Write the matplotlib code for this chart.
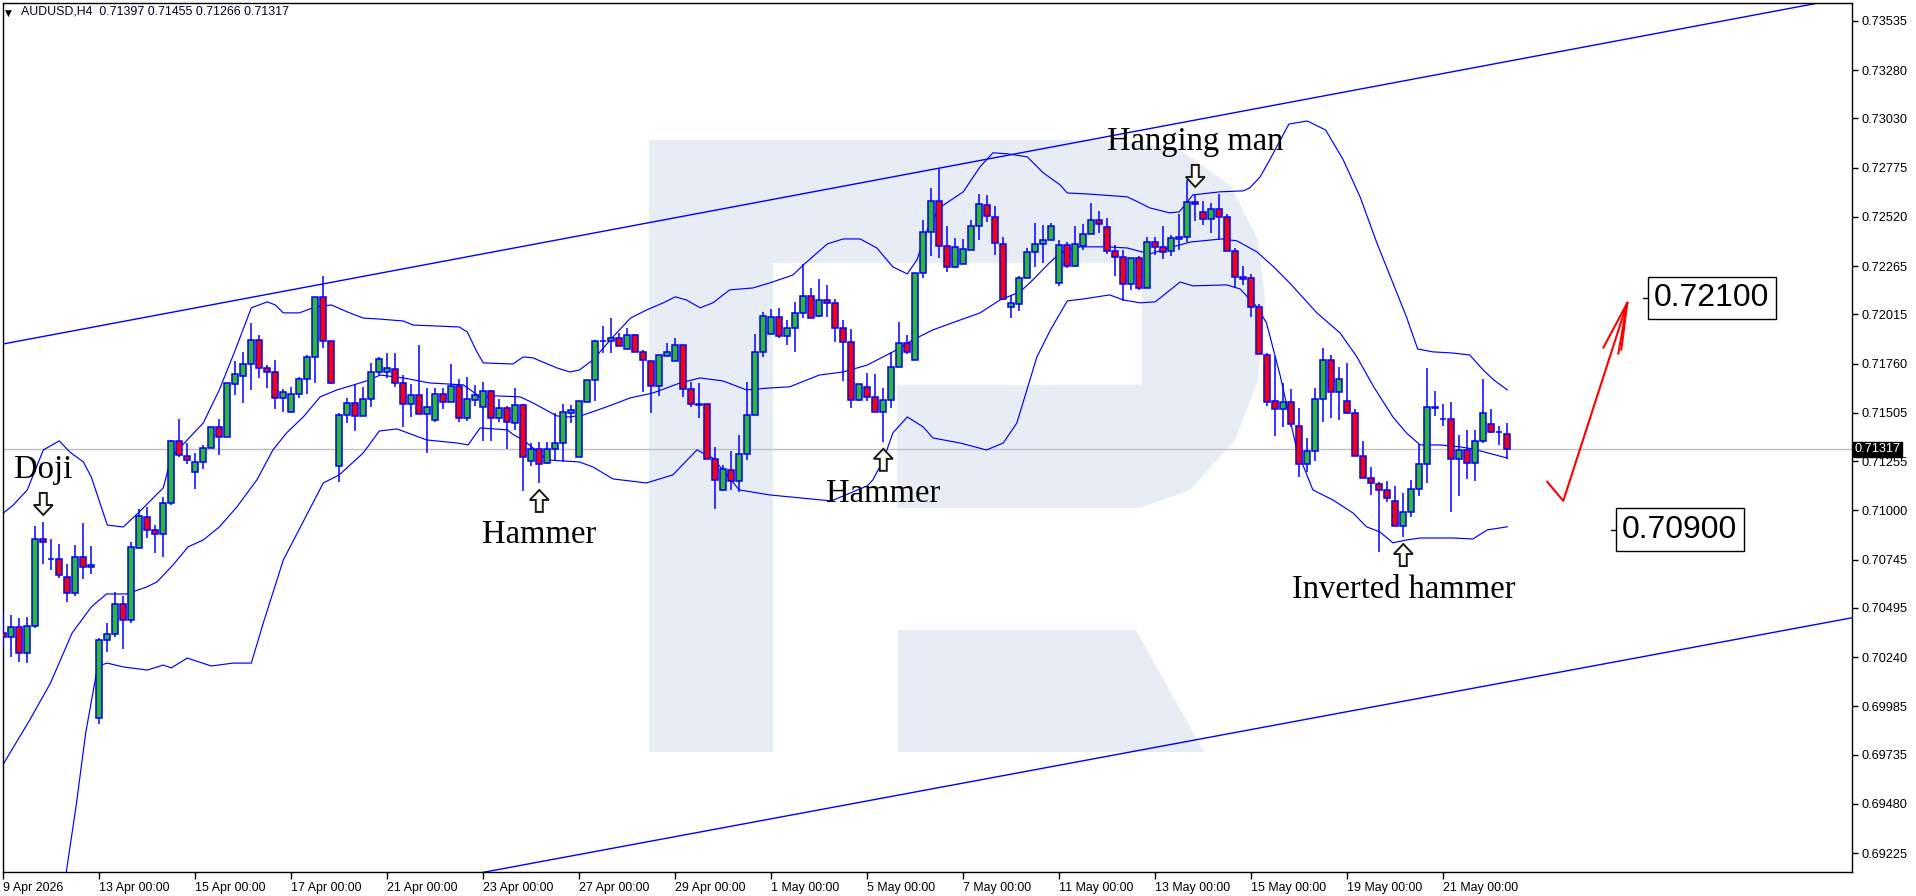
import numpy as np
import matplotlib
matplotlib.use("Agg")
import matplotlib.pyplot as plt
import matplotlib.transforms as mtransforms
from matplotlib.patches import Polygon, Rectangle

# ---- data (bar 0 = 9 Apr 2026 00:00) ----
opens = [
    0.70365, 0.70345, 0.70396, 0.70261, 0.70401, 0.70852, 0.70748, 0.70748, 0.70655, 0.70572,
    0.70759, 0.70707, 0.69925, 0.70329, 0.70360, 0.70515, 0.70432, 0.70806, 0.70966, 0.70899,
    0.70878, 0.71038, 0.71360, 0.71282, 0.71199, 0.71251, 0.71324, 0.71432, 0.71381, 0.71655,
    0.71696, 0.71758, 0.71883, 0.71738, 0.71717, 0.71583, 0.71510, 0.71603, 0.71680, 0.71795,
    0.72106, 0.71878, 0.71230, 0.71494, 0.71556, 0.71489, 0.71577, 0.71717, 0.71717, 0.71733,
    0.71660, 0.71551, 0.71598, 0.71499, 0.71468, 0.71603, 0.71562, 0.71645, 0.71479, 0.71572,
    0.71536, 0.71619, 0.71479, 0.71530, 0.71453, 0.71546, 0.71256, 0.71318, 0.71246, 0.71318,
    0.71349, 0.71504, 0.71277, 0.71562, 0.71676, 0.71878, 0.71878, 0.71893, 0.71836, 0.71909,
    0.71821, 0.71774, 0.71645, 0.71800, 0.71774, 0.71857, 0.71629, 0.71551, 0.71551, 0.71266,
    0.71106, 0.71209, 0.71153, 0.71292, 0.71494, 0.71821, 0.71914, 0.72002, 0.71904, 0.71945,
    0.72023, 0.72111, 0.72007, 0.72090, 0.72075, 0.71945, 0.71873, 0.71572, 0.71640, 0.71588,
    0.71510, 0.71572, 0.71743, 0.71867, 0.71779, 0.72230, 0.72442, 0.72603, 0.72370, 0.72261,
    0.72276, 0.72349, 0.72473, 0.72582, 0.72520, 0.72380, 0.72054, 0.72069, 0.72204, 0.72339,
    0.72380, 0.72401, 0.72178, 0.72375, 0.72266, 0.72370, 0.72432, 0.72504, 0.72468, 0.72344,
    0.72313, 0.72173, 0.72308, 0.72152, 0.72390, 0.72365, 0.72344, 0.72406, 0.72416, 0.72597,
    0.72546, 0.72510, 0.72561, 0.72520, 0.72344, 0.72209, 0.72204, 0.72054, 0.71805, 0.71567,
    0.71525, 0.71562, 0.71437, 0.71240, 0.71308, 0.71577, 0.71779, 0.71614, 0.71567, 0.71504,
    0.71282, 0.71168, 0.71137, 0.71106, 0.71049, 0.70919, 0.70992, 0.71111, 0.71240, 0.71536,
    0.71474, 0.71474, 0.71266, 0.71313, 0.71246, 0.71360, 0.71448, 0.71406, 0.71397,
]
highs = [
    0.70474, 0.70458, 0.70443, 0.70448, 0.70919, 0.70940, 0.70852, 0.70826, 0.70722, 0.70821,
    0.70934, 0.70816, 0.70340, 0.70416, 0.70578, 0.70557, 0.70837, 0.71007, 0.71018, 0.70924,
    0.71070, 0.71365, 0.71473, 0.71349, 0.71297, 0.71339, 0.71432, 0.71473, 0.71660, 0.71774,
    0.71821, 0.71970, 0.71909, 0.71753, 0.71779, 0.71629, 0.71640, 0.71691, 0.71805, 0.72106,
    0.72214, 0.71878, 0.71504, 0.71583, 0.71650, 0.71640, 0.71763, 0.71795, 0.71815, 0.71815,
    0.71701, 0.71655, 0.71857, 0.71635, 0.71635, 0.71635, 0.71758, 0.71680, 0.71691, 0.71650,
    0.71665, 0.71624, 0.71577, 0.71541, 0.71635, 0.71551, 0.71349, 0.71355, 0.71355, 0.71504,
    0.71551, 0.71546, 0.71567, 0.71676, 0.71883, 0.71955, 0.71996, 0.71919, 0.71945, 0.71914,
    0.71831, 0.71774, 0.71805, 0.71867, 0.71893, 0.71857, 0.71665, 0.71660, 0.71551, 0.71329,
    0.71235, 0.71308, 0.71391, 0.71665, 0.71914, 0.72028, 0.72043, 0.72049, 0.71986, 0.72080,
    0.72276, 0.72152, 0.72199, 0.72168, 0.72095, 0.71986, 0.71940, 0.71655, 0.71712, 0.71707,
    0.71635, 0.71821, 0.71976, 0.71909, 0.72230, 0.72504, 0.72670, 0.72774, 0.72473, 0.72411,
    0.72406, 0.72504, 0.72639, 0.72634, 0.72577, 0.72416, 0.72116, 0.72214, 0.72359, 0.72489,
    0.72478, 0.72489, 0.72401, 0.72390, 0.72473, 0.72484, 0.72592, 0.72551, 0.72515, 0.72375,
    0.72349, 0.72308, 0.72318, 0.72416, 0.72416, 0.72473, 0.72427, 0.72535, 0.72712, 0.72639,
    0.72603, 0.72592, 0.72639, 0.72535, 0.72359, 0.72266, 0.72225, 0.72069, 0.71815, 0.71800,
    0.71660, 0.71629, 0.71530, 0.71375, 0.71635, 0.71841, 0.71805, 0.71743, 0.71764, 0.71525,
    0.71360, 0.71225, 0.71148, 0.71153, 0.71127, 0.71090, 0.71158, 0.71344, 0.71738, 0.71619,
    0.71551, 0.71562, 0.71391, 0.71417, 0.71417, 0.71681, 0.71525, 0.71437, 0.71455,
]
lows = [
    0.70293, 0.70241, 0.70215, 0.70209, 0.70391, 0.70722, 0.70691, 0.70650, 0.70526, 0.70557,
    0.70644, 0.70670, 0.69893, 0.70267, 0.70345, 0.70282, 0.70416, 0.70806, 0.70858, 0.70779,
    0.70759, 0.71028, 0.71277, 0.71240, 0.71111, 0.71214, 0.71324, 0.71287, 0.71381, 0.71598,
    0.71556, 0.71624, 0.71686, 0.71635, 0.71525, 0.71510, 0.71510, 0.71583, 0.71603, 0.71660,
    0.71842, 0.71655, 0.71148, 0.71452, 0.71412, 0.71489, 0.71536, 0.71701, 0.71686, 0.71640,
    0.71432, 0.71484, 0.71499, 0.71297, 0.71458, 0.71525, 0.71562, 0.71458, 0.71463, 0.71541,
    0.71360, 0.71360, 0.71458, 0.71318, 0.71417, 0.71101, 0.71230, 0.71142, 0.71240, 0.71256,
    0.71251, 0.71453, 0.71277, 0.71562, 0.71567, 0.71815, 0.71815, 0.71852, 0.71836, 0.71821,
    0.71614, 0.71504, 0.71593, 0.71800, 0.71774, 0.71588, 0.71536, 0.71479, 0.71266, 0.71007,
    0.71101, 0.71106, 0.71096, 0.71261, 0.71494, 0.71795, 0.71914, 0.71893, 0.71857, 0.71821,
    0.71996, 0.71996, 0.72002, 0.72002, 0.71873, 0.71671, 0.71530, 0.71567, 0.71567, 0.71510,
    0.71355, 0.71530, 0.71743, 0.71810, 0.71779, 0.72204, 0.72318, 0.72308, 0.72235, 0.72256,
    0.72276, 0.72349, 0.72401, 0.72494, 0.72323, 0.72090, 0.71996, 0.72033, 0.72204, 0.72261,
    0.72282, 0.72401, 0.72163, 0.72256, 0.72261, 0.72349, 0.72432, 0.72437, 0.72328, 0.72214,
    0.72085, 0.72142, 0.72142, 0.72152, 0.72323, 0.72303, 0.72318, 0.72349, 0.72390, 0.72499,
    0.72478, 0.72437, 0.72401, 0.72344, 0.72152, 0.72168, 0.72002, 0.71810, 0.71541, 0.71385,
    0.71432, 0.71432, 0.71173, 0.71199, 0.71256, 0.71458, 0.71479, 0.71468, 0.71499, 0.71282,
    0.71168, 0.71080, 0.70785, 0.71044, 0.70919, 0.70862, 0.70966, 0.71075, 0.71142, 0.71489,
    0.71437, 0.70992, 0.71075, 0.71163, 0.71153, 0.71349, 0.71401, 0.71339, 0.71266,
]
closes = [
    0.70345, 0.70396, 0.70261, 0.70401, 0.70852, 0.70837, 0.70748, 0.70665, 0.70572, 0.70759,
    0.70707, 0.70717, 0.70329, 0.70360, 0.70515, 0.70432, 0.70811, 0.70971, 0.70899, 0.70878,
    0.71038, 0.71360, 0.71287, 0.71261, 0.71251, 0.71324, 0.71432, 0.71381, 0.71660, 0.71706,
    0.71758, 0.71883, 0.71738, 0.71717, 0.71583, 0.71614, 0.71603, 0.71680, 0.71795, 0.72106,
    0.71878, 0.71660, 0.71494, 0.71556, 0.71489, 0.71577, 0.71717, 0.71784, 0.71738, 0.71660,
    0.71551, 0.71598, 0.71499, 0.71536, 0.71603, 0.71562, 0.71645, 0.71479, 0.71577, 0.71598,
    0.71619, 0.71479, 0.71530, 0.71458, 0.71546, 0.71277, 0.71318, 0.71240, 0.71318, 0.71349,
    0.71510, 0.71520, 0.71567, 0.71676, 0.71878, 0.71878, 0.71893, 0.71852, 0.71909, 0.71821,
    0.71779, 0.71645, 0.71805, 0.71821, 0.71857, 0.71629, 0.71551, 0.71546, 0.71266, 0.71158,
    0.71214, 0.71153, 0.71292, 0.71494, 0.71821, 0.72007, 0.72002, 0.71904, 0.71945, 0.72023,
    0.72111, 0.71996, 0.72090, 0.72075, 0.71945, 0.71873, 0.71572, 0.71655, 0.71588, 0.71510,
    0.71572, 0.71743, 0.71867, 0.71821, 0.72230, 0.72442, 0.72603, 0.72370, 0.72261, 0.72365,
    0.72354, 0.72473, 0.72587, 0.72525, 0.72385, 0.72095, 0.72075, 0.72204, 0.72339, 0.72380,
    0.72401, 0.72473, 0.72375, 0.72266, 0.72380, 0.72432, 0.72504, 0.72484, 0.72344, 0.72313,
    0.72173, 0.72308, 0.72152, 0.72390, 0.72365, 0.72339, 0.72411, 0.72416, 0.72597, 0.72587,
    0.72510, 0.72561, 0.72520, 0.72344, 0.72209, 0.72199, 0.72054, 0.71810, 0.71562, 0.71525,
    0.71562, 0.71448, 0.71240, 0.71308, 0.71577, 0.71779, 0.71614, 0.71680, 0.71504, 0.71282,
    0.71168, 0.71142, 0.71106, 0.71064, 0.70919, 0.70992, 0.71111, 0.71240, 0.71536, 0.71530,
    0.71474, 0.71266, 0.71313, 0.71246, 0.71360, 0.71504, 0.71406, 0.71406, 0.71317,
]

# Bollinger band (20, 2) as drawn on the chart, sampled at bar positions
upper_bar = [0, 1.25, 3, 5, 7, 8.3, 10, 11, 13, 15, 17, 20, 21, 23, 25, 27, 29, 31, 33, 34,
             35, 37, 39, 41, 43, 45, 47, 50, 51.2, 57, 58, 59.2, 60, 63.7, 65, 66.2, 69.2, 70.8,
             72, 73.7, 76.2, 78.4, 80.4, 82.5, 84, 85.4, 87.1, 88.7, 90.8, 93.7, 95.8, 98.7,
             100, 103, 105, 107.1, 109.2, 111.2, 113, 114.2, 115.5, 117, 120, 122.1, 123.7,
             125.5, 128, 130, 132.1, 133, 135.5, 140.5, 142.1, 143.3, 145.8, 147, 148.7, 152.1,
             155, 155.8, 157.1, 158.3, 160.7, 163, 165.3, 167.5, 169.6, 171.7, 173.7, 175.4,
             176.8, 178.7, 181.2, 183.3, 185, 186.3, 188]
upper_px = [0.70986, 0.71028, 0.71106, 0.71313, 0.71360, 0.71303, 0.71251, 0.71173, 0.70924,
            0.70914, 0.70992, 0.71117, 0.71277, 0.71365, 0.71453, 0.71624, 0.71831, 0.72049,
            0.72080, 0.72064, 0.72023, 0.72023, 0.72054, 0.72064, 0.72028, 0.71996, 0.71991,
            0.71981, 0.71960, 0.71950, 0.71924, 0.71821, 0.71764, 0.71758, 0.71795, 0.71790,
            0.71738, 0.71717, 0.71727, 0.71779, 0.71898, 0.71996, 0.72038, 0.72075, 0.72106,
            0.72090, 0.72049, 0.72075, 0.72142, 0.72152, 0.72178, 0.72219, 0.72271, 0.72380,
            0.72406, 0.72406, 0.72359, 0.72261, 0.72225, 0.72297, 0.72453, 0.72567, 0.72650,
            0.72780, 0.72852, 0.72847, 0.72831, 0.72748, 0.72686, 0.72644, 0.72639, 0.72624,
            0.72592, 0.72567, 0.72541, 0.72546, 0.72634, 0.72650, 0.72655, 0.72670, 0.72727,
            0.72815, 0.73001, 0.73017, 0.72970, 0.72815, 0.72624, 0.72385, 0.72178, 0.72002,
            0.71836, 0.71821, 0.71815, 0.71805, 0.71727, 0.71676, 0.71624]
mid_bar = [0, 3.3, 5.9, 8.6, 11, 12.9, 15.4, 17.9, 19.2, 21.2, 23.1, 25, 27, 29.2, 31.7, 33.7,
           35.4, 37.5, 39.6, 41.7, 44.2, 45.8, 47.1, 50, 53.3, 57.5, 59.6, 61.7, 64.6, 66.2,
           69.2, 70.8, 72.5, 75.4, 78.4, 81.2, 84.6, 87.1, 90, 92.9, 95.8, 98.3, 102, 105, 108,
           111.2, 113.7, 116.2, 119.6, 122.1, 124.6, 127.1, 128.7, 130.5, 132.1, 134.6, 137.9,
           140.5, 143.3, 146.2, 148.4, 152.3, 154.2, 156.7, 158.8, 160.8, 164.2, 167.1, 169.2,
           171.3, 173.7, 175.4, 177.1, 179.6, 182.1, 183.7, 188]
mid_px = [0.69686, 0.69914, 0.70106, 0.70365, 0.70500, 0.70567, 0.70567, 0.70603, 0.70629,
          0.70717, 0.70811, 0.70847, 0.70914, 0.71018, 0.71158, 0.71313, 0.71401, 0.71484,
          0.71588, 0.71624, 0.71655, 0.71676, 0.71701, 0.71686, 0.71660, 0.71650, 0.71588,
          0.71593, 0.71588, 0.71557, 0.71489, 0.71484, 0.71494, 0.71536, 0.71583, 0.71608,
          0.71660, 0.71686, 0.71670, 0.71624, 0.71634, 0.71640, 0.71701, 0.71717, 0.71753,
          0.71821, 0.71883, 0.71935, 0.71986, 0.72023, 0.72090, 0.72132, 0.72194, 0.72271,
          0.72333, 0.72365, 0.72365, 0.72359, 0.72328, 0.72365, 0.72390, 0.72406, 0.72396,
          0.72339, 0.72261, 0.72178, 0.72023, 0.71919, 0.71795, 0.71640, 0.71484, 0.71401,
          0.71339, 0.71339, 0.71329, 0.71318, 0.71271]
lower_bar = [6, 7.5, 9.1, 10.3, 11.8, 13, 15, 18, 20, 21, 23, 26, 28.7, 31, 32.5, 35, 36.3,
             40, 42, 45, 47, 49.2, 52.9, 56.7, 58.1, 59.6, 63, 63.8, 65, 68, 72, 73.7, 76.2,
             80.4, 83.7, 86.7, 88.7, 92, 95.8, 103.5, 108, 108.7, 110, 111.2, 113, 115, 116.2,
             119.6, 122.9, 125, 126.7, 129.2, 130.9, 133, 135, 138.3, 140, 142.1, 144, 147.1,
             148.7, 152.9, 154.6, 156.7, 157.9, 159.6, 161.7, 163.7, 166.2, 168.7, 170.4,
             172.1, 173.7, 175.4, 177.1, 181.2, 183.7, 185.5, 188]
lower_px = [0.68671, 0.69023, 0.69469, 0.69847, 0.70194, 0.70209, 0.70189, 0.70173, 0.70199,
            0.70184, 0.70235, 0.70194, 0.70209, 0.70209, 0.70417, 0.70743, 0.70847, 0.71142,
            0.71184, 0.71298, 0.71411, 0.71422, 0.71365, 0.71349, 0.71339, 0.71427, 0.71417,
            0.71391, 0.71365, 0.71261, 0.71251, 0.71225, 0.71163, 0.71142, 0.71184, 0.71313,
            0.71271, 0.71106, 0.71080, 0.71049, 0.71127, 0.71158, 0.71261, 0.71401, 0.71484,
            0.71432, 0.71375, 0.71349, 0.71313, 0.71349, 0.71453, 0.71795, 0.71935, 0.72085,
            0.72095, 0.72116, 0.72090, 0.72075, 0.72080, 0.72183, 0.72163, 0.72168, 0.72147,
            0.72054, 0.71971, 0.71700, 0.71313, 0.71106, 0.71054, 0.70987, 0.70915, 0.70888,
            0.70832, 0.70847, 0.70857, 0.70857, 0.70852, 0.70899, 0.70915]

# channel lines (bar, price) end points
channel_bars = [0, 231]
channel_top = [0.71862, 0.73660]
channel_bottom = [0.68663, 0.70443]

last_price = 0.71317
targets = [0.72100, 0.70900]
forecast_bars = [193, 195, 203]
forecast_prices = [0.71148, 0.71049, 0.72075]

ytick_vals = [0.73535, 0.73280, 0.73030, 0.72775, 0.72520, 0.72265, 0.72015, 0.71760, 0.71505,
              0.71255, 0.71000, 0.70745, 0.70495, 0.70240, 0.69985, 0.69735, 0.69480, 0.69225]
xtick_bars = [0, 12, 24, 36, 48, 60, 72, 84, 96, 108, 120, 132, 144, 156, 168, 180]
xtick_labels = ["9 Apr 2026", "13 Apr 00:00", "15 Apr 00:00", "17 Apr 00:00", "21 Apr 00:00",
                "23 Apr 00:00", "27 Apr 00:00", "29 Apr 00:00", "1 May 00:00", "5 May 00:00",
                "7 May 00:00", "11 May 00:00", "13 May 00:00", "15 May 00:00", "19 May 00:00",
                "21 May 00:00"]

# patterns: (label, bar, arrow direction)
patterns = [("Doji", 5, "down"), ("Hammer", 67, "up"), ("Hammer", 110, "up"),
            ("Hanging man", 149, "down"), ("Inverted hammer", 175, "up")]

W, H = 1916, 896
fig = plt.figure(figsize=(W / 100, H / 100), dpi=100)
ax = fig.add_axes([2.5 / W, (H - 872) / H, (1852 - 2.5) / W, (872 - 3) / H])
ax.set_xlim(-0.1, 231.09)
ax.set_ylim(0.69127, 0.73628)

# pixel transform (x right, y down, image coordinates)
pix = mtransforms.Affine2D().scale(1, -1).translate(0, H)

# watermark logo
wm = '#e8ecf4'
bowl = Polygon([(649, 140), (1110, 140), (1180, 150), (1230, 185), (1258, 240), (1265, 300),
                (1258, 380), (1235, 440), (1190, 490), (1140, 508), (897, 508), (897, 752),
                (649, 752)], closed=True, transform=pix, facecolor=wm, edgecolor='none', zorder=0)
ax.add_patch(bowl)
ax.add_patch(Rectangle((773, 263), 369, 122, transform=pix, facecolor='white',
                       edgecolor='none', zorder=0.1))
ax.add_patch(Rectangle((773, 385), 124, 370, transform=pix, facecolor='white',
                       edgecolor='none', zorder=0.1))
ax.add_patch(Polygon([(898, 630), (1136, 630), (1204, 752), (898, 752)], closed=True,
                     transform=pix, facecolor=wm, edgecolor='none', zorder=0))

ax.axhline(last_price, color='#c0c0c0', lw=1, zorder=1)

# bands and channel
band_kw = dict(color='#0000ff', lw=0.85, zorder=2)
ax.plot(upper_bar, upper_px, **band_kw)
ax.plot(mid_bar, mid_px, **band_kw)
ax.plot(lower_bar, lower_px, **band_kw)
ax.plot(channel_bars, channel_top, color='#0000ff', lw=1.0, zorder=2)
ax.plot(channel_bars, channel_bottom, color='#0000ff', lw=1.0, zorder=2)

# candles
o = np.array(opens)
c = np.array(closes)
x = np.arange(len(o))
ax.vlines(x, lows, highs, color='#0000ff', lw=1.1, zorder=3)
up = c >= o
body_bottom = np.minimum(o, c)
body_h = np.abs(c - o)
ax.bar(x[up], body_h[up], bottom=body_bottom[up], width=0.7, color='#2eb82e',
       edgecolor='#0000ff', lw=1.1, zorder=4)
ax.bar(x[~up], body_h[~up], bottom=body_bottom[~up], width=0.7, color='#ff0000',
       edgecolor='#0000ff', lw=1.1, zorder=4)


def hollow_arrow(b, price, direction):
    # block arrow, 19 px wide and 22 px tall, tip 7 px away from the candle
    shape = [(-3.5, 22), (3.5, 22), (3.5, 10), (9.5, 10), (0, 0), (-9.5, 10), (-3.5, 10)]
    if direction == "down":
        pts = [(px, py + 7) for px, py in shape]
    else:
        pts = [(px, -py - 7) for px, py in shape]
    tr = mtransforms.IdentityTransform() + mtransforms.ScaledTranslation(b, price, ax.transData)
    ax.add_patch(Polygon(pts, closed=True, transform=tr, facecolor='#fffdf2',
                         edgecolor='#1a1a1a', lw=1.4, zorder=6, clip_on=False))


# pattern labels
serif = 'Liberation Serif'
for label, b, d in patterns:
    if d == "down":
        hollow_arrow(b, highs[b], d)
        ax.annotate(label, (b, highs[b]), xytext=(0, 37), textcoords='offset pixels',
                    ha='center', va='bottom', fontsize=23.5, family=serif, color='black',
                    zorder=6)
    else:
        hollow_arrow(b, lows[b], d)
        ax.annotate(label, (b, lows[b]), xytext=(0, -37), textcoords='offset pixels',
                    ha='center', va='top', fontsize=23.5, family=serif, color='black',
                    zorder=6)

# forecast arrow
ax.plot(forecast_bars, forecast_prices, color='#ff0000', lw=1.5, zorder=5)
tipx, tipy = forecast_bars[-1], forecast_prices[-1]
for dx, dy in [(-24, -45), (-9, -51), (-6, -47)]:
    ax.annotate('', (tipx, tipy), xytext=(dx, dy), textcoords='offset pixels',
                arrowprops=dict(arrowstyle='-', color='#ff0000', lw=1.5, shrinkA=0,
                                shrinkB=0), zorder=5)

# target levels
for lvl, bx in zip(targets, [206.3, 202.3]):
    ax.plot([bx - 1.3, bx], [lvl, lvl], color='black', lw=1, zorder=5)
    ax.text(bx + 0.05, lvl, f'{lvl:.5f}', ha='left', va='center', fontsize=23,
            family='Liberation Sans', color='black', zorder=6,
            bbox=dict(boxstyle='square,pad=0.2', facecolor='white', edgecolor='black', lw=1))

# axes styling
for s in ax.spines.values():
    s.set_color('black')
    s.set_linewidth(1)
ax.yaxis.tick_right()
ax.set_yticks(ytick_vals)
ax.set_yticklabels([f'{v:.5f}' for v in ytick_vals])
ax.tick_params(axis='y', direction='out', length=4, width=1, pad=3, labelsize=9.2,
               labelfontfamily='Liberation Sans')
ax.set_xticks(xtick_bars)
ax.set_xticklabels(xtick_labels, ha='left')
ax.tick_params(axis='x', direction='out', length=5, width=1, pad=2, labelsize=8.9,
               labelfontfamily='Liberation Sans')
for lbl in ax.get_xticklabels():
    lbl.set_horizontalalignment('left')

# last price tag
ax.text(1.0015, last_price, f'{last_price:.5f}', transform=ax.get_yaxis_transform(),
        ha='left', va='center', fontsize=9.2, family='Liberation Sans', color='white',
        zorder=7, bbox=dict(boxstyle='square,pad=0.12', facecolor='black', edgecolor='black'),
        clip_on=False)

fig.text(5 / W, 1 - 13 / H, '\u25bc', fontsize=6.5, color='black', va='center',
         family='DejaVu Sans')
fig.text(21 / W, 1 - 12 / H, f'AUDUSD,H4  {opens[-1]:.5f} {highs[-1]:.5f} {lows[-1]:.5f} {closes[-1]:.5f}',
         fontsize=8.9, color='#000022', va='center', family='Liberation Sans')

fig.savefig('out.png', dpi=100, facecolor='white')
